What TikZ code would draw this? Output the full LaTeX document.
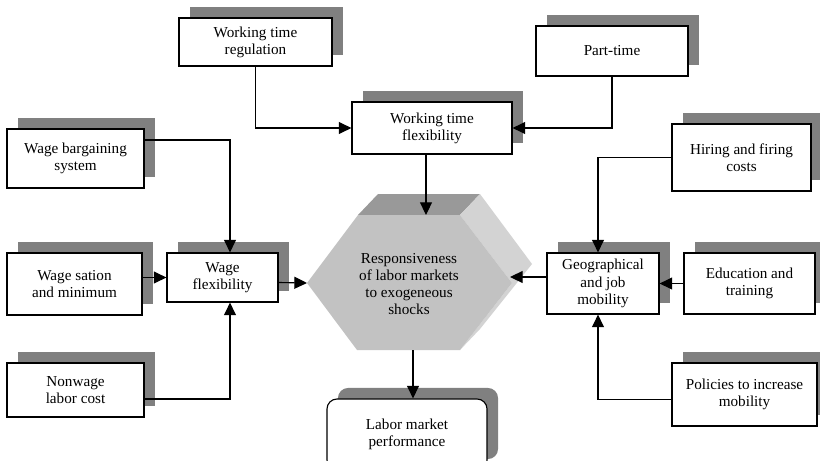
\documentclass[tikz,border=0pt]{standalone}
\usepackage{fontspec}
\setmainfont{Liberation Serif}
\usetikzlibrary{arrows.meta,shadows}

\definecolor{shadowgray}{HTML}{808080}
\definecolor{hexfront}{HTML}{C2C2C2}
\definecolor{hextop}{HTML}{999999}
\definecolor{hexside}{HTML}{D3D3D3}

\begin{document}
\begin{tikzpicture}[x=0.025cm,y=-0.025cm,>={Triangle[length=9pt,width=8.5pt]},
  factor box/.style={rectangle,draw,line width=0.8pt,fill=white,align=center,inner sep=1pt,
    font=\fontsize{10.8}{12.2}\selectfont,
    general shadow={shadow xshift=.275cm,shadow yshift=.275cm,fill=shadowgray}},
  link/.style={->,line width=0.8pt}]

  \useasboundingbox (0,0) rectangle (820,460);

  % the block in the middle
  \fill[hextop] (358,215) -- (378,194) -- (480,194) -- (460,215) -- cycle;
  \fill[hexside] (460,215) -- (480,194) -- (532,264) -- (480,329) -- (460,350) -- (512,283) -- cycle;
  \fill[hexfront] (307,283) -- (358,215) -- (460,215) -- (512,283) -- (460,350) -- (357,350) -- cycle;
  \coordinate (hexN) at (426,215);
  \coordinate (hexW) at (307,283);
  \coordinate (hexE) at (510,277);
  \coordinate (hexS) at (413,350);
  \node[align=center,font=\fontsize{10.8}{12.2}\selectfont] (resp) at (409,284)
    {Responsiveness\\of labor markets\\to exogeneous\\shocks};

  \node[factor box,minimum width=3.825cm,minimum height=1.2cm] (reg) at (255.5,42) {Working time\\regulation};
  \node[factor box,minimum width=3.8cm,minimum height=1.25cm] (part) at (612,51) {Part-time};
  \node[factor box,minimum width=4cm,minimum height=1.3cm] (wtflex) at (432,128) {Working time\\flexibility};

  \node[factor box,minimum width=3.425cm,minimum height=1.475cm] (wbs) at (75.5,158.5) {Wage bargaining\\system};
  \node[factor box,minimum width=3.375cm,minimum height=1.55cm] (wsm) at (74.5,284) {Wage sation\\and minimum};
  \node[factor box,minimum width=2.775cm,minimum height=1.225cm] (wflex) at (222.5,277.5) {Wage\\flexibility};
  \node[factor box,minimum width=3.425cm,minimum height=1.35cm] (nonwage) at (75.5,390) {Nonwage\\labor cost};

  \node[factor box,minimum width=3.475cm,minimum height=1.675cm] (hiring) at (741.5,157.5) {Hiring and firing\\costs};
  \node[factor box,minimum width=2.8cm,minimum height=1.525cm] (geo) at (603,283.5) {Geographical\\and job\\mobility};
  \node[factor box,minimum width=3.275cm,minimum height=1.525cm] (edu) at (749.5,283.5) {Education and\\training};
  \node[factor box,minimum width=3.625cm,minimum height=1.575cm] (policies) at (744.5,394.5) {Policies to increase\\mobility};

  \node[factor box,rounded corners=0.25cm,minimum width=4cm,minimum height=1.775cm] (perf) at (407,434.5) {Labor market\\performance};

  % connectors
  \draw[link] (reg.south) |- (wtflex.west);
  \draw[link] (part.south) |- (wtflex.east);
  \draw[link] (wtflex.south -| hexN) -- (hexN);

  \draw[link] ([yshift=.4625cm]wbs.east) -| ([xshift=.1875cm]wflex.north);
  \draw[link] (wsm.east |- wflex.west) -- (wflex.west);
  \draw[link] ([yshift=-.225cm]nonwage.east) -| ([xshift=.1875cm]wflex.south);
  \draw[link] ([yshift=-.125cm]wflex.east) -- (hexW);

  \draw[link] (hiring.west) -| ([xshift=-.125cm]geo.north);
  \draw[link] (edu.west) -- (geo.east);
  \draw[link] ([yshift=-.125cm]policies.west) -| ([xshift=-.125cm]geo.south);
  \draw[link] (geo.west |- hexE) -- (hexE);

  \draw[link] (hexS) -- (perf.north -| hexS);
\end{tikzpicture}
\end{document}
